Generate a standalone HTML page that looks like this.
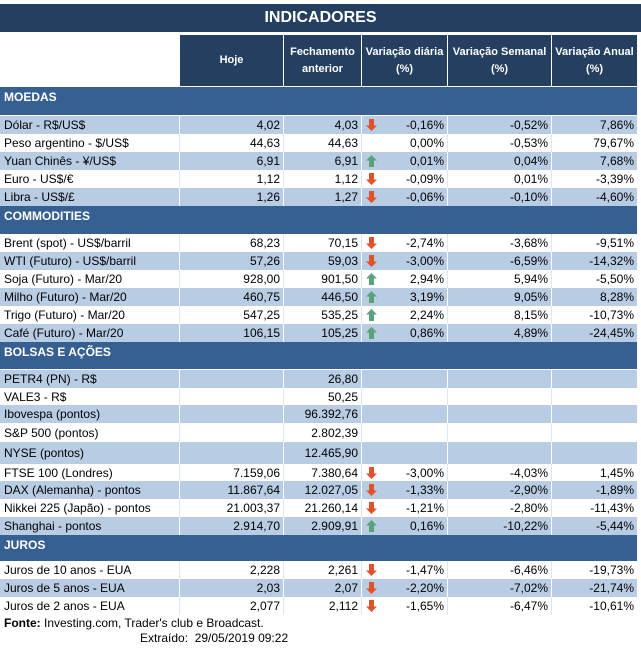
<!DOCTYPE html>
<html><head><meta charset="utf-8"><style>
body{margin:0;width:641px;height:650px;background:#fff;font-family:"Liberation Sans",sans-serif;font-size:12px;color:#000;position:relative;overflow:hidden}
div{position:absolute;box-sizing:border-box;white-space:nowrap}
.t{display:flex;align-items:center}
.r{justify-content:flex-end;padding-right:3px}
.l{padding-left:4px}
</style></head><body>
<div style="left:0;top:4px;width:641px;height:28px;background:#243f60;color:#fff;font-weight:bold;font-size:16px;text-align:center;line-height:28px">INDICADORES</div>
<div id="c"></div>
<div style="left:4px;top:616px;font-size:12px"><b>Fonte:</b> Investing.com, Trader's club e Broadcast.</div>
<div style="left:140px;top:631px;font-size:12px">Extraído:&nbsp; 29/05/2019 09:22</div>
<script>
var X=[0,179,283,361,447,551,637];
var out='';
var H=['Hoje','Fechamento<br>anterior','Variação diária<br>(%)','Variação Semanal<br>(%)','Variação Anual<br>(%)'];
for(var i=1;i<6;i++){out+='<div style="left:'+(X[i]+1)+'px;top:35px;width:'+(X[i+1]-X[i]-1)+'px;height:51px;background:#243f60;color:#fff;font-weight:bold;font-size:11px;display:flex;align-items:center;justify-content:center;text-align:center;line-height:17px">'+H[i-1]+'</div>';}
function sec(y,h,t){out+='<div style="left:0;top:'+y+'px;width:637px;height:'+h+'px;background:#366092;color:#fff;font-weight:bold;font-size:12px;padding:3px 0 0 4px">'+t+'</div>';}
function row(y,h,blue,d){
 var bg=blue?'#b8cce4':'#fff';
 out+='<div style="left:0;top:'+y+'px;width:637px;height:'+h+'px;background:'+bg+'"></div>';
 for(var i=1;i<6;i++){out+='<div style="left:'+X[i]+'px;top:'+y+'px;width:1px;height:'+h+'px;background:'+(blue?'#fff':'#dce6f1')+'"></div>';}
 out+='<div class="t l" style="left:0;top:'+y+'px;width:179px;height:'+h+'px">'+d[0]+'</div>';
 for(var i=1;i<6;i++){ if(d[i]) out+='<div class="t r" style="left:'+X[i]+'px;top:'+y+'px;width:'+(X[i+1]-X[i])+'px;height:'+h+'px">'+d[i]+'</div>';}
 if(d[6]){var up=d[6]=='u';
  out+='<div style="left:366px;top:'+(y+3)+'px;width:11px;height:12px"><svg width="11" height="12" viewBox="0 0 11 12">'+(up?'<path d="M5.5 0L11 5.5H8V12H3V5.5H0Z" fill="#5aa37a"/>':'<path d="M3 0H8V6.5H11L5.5 12L0 6.5H3Z" fill="#e0522b"/>')+'</svg></div>';}
}
sec(87,28,'MOEDAS');
var y=116,R;
R=[['Dólar - R$/US$','4,02','4,03','-0,16%','-0,52%','7,86%','d'],
['Peso argentino - $/US$','44,63','44,63','0,00%','-0,53%','79,67%',''],
['Yuan Chinês - ¥/US$','6,91','6,91','0,01%','0,04%','7,68%','u'],
['Euro - US$/€','1,12','1,12','-0,09%','0,01%','-3,39%','d'],
['Libra - US$/£','1,26','1,27','-0,06%','-0,10%','-4,60%','d']];
R.forEach(function(d,i){row(y,18,i%2==0,d);y+=18;});
sec(206,28,'COMMODITIES');y=234;
R=[['Brent (spot) - US$/barril','68,23','70,15','-2,74%','-3,68%','-9,51%','d'],
['WTI (Futuro) - US$/barril','57,26','59,03','-3,00%','-6,59%','-14,32%','d'],
['Soja (Futuro) - Mar/20','928,00','901,50','2,94%','5,94%','-5,50%','u'],
['Milho (Futuro) - Mar/20','460,75','446,50','3,19%','9,05%','8,28%','u'],
['Trigo (Futuro) - Mar/20','547,25','535,25','2,24%','8,15%','-10,73%','u'],
['Café (Futuro) - Mar/20','106,15','105,25','0,86%','4,89%','-24,45%','u']];
R.forEach(function(d,i){row(y,18,i%2==1,d);y+=18;});
sec(342,27,'BOLSAS E AÇÕES');
R=[[370,18,['PETR4 (PN) - R$','','26,80']],[388,17,['VALE3 - R$','','50,25']],[405,18,['Ibovespa (pontos)','','96.392,76']],
[423,19,['S&amp;P 500 (pontos)','','2.802,39']],[442,22,['NYSE (pontos)','','12.465,90']],
[464,17,['FTSE 100 (Londres)','7.159,06','7.380,64','-3,00%','-4,03%','1,45%','d']],
[481,18,['DAX (Alemanha) - pontos','11.867,64','12.027,05','-1,33%','-2,90%','-1,89%','d']],
[499,18,['Nikkei 225 (Japão) - pontos','21.003,37','21.260,14','-1,21%','-2,80%','-11,43%','d']],
[517,18,['Shanghai - pontos','2.914,70','2.909,91','0,16%','-10,22%','-5,44%','u']]];
R.forEach(function(r,i){row(r[0],r[1],i%2==0,r[2]);});
sec(535,26,'JUROS');y=561;
R=[['Juros de 10 anos - EUA','2,228','2,261','-1,47%','-6,46%','-19,73%','d'],
['Juros de 5 anos - EUA','2,03','2,07','-2,20%','-7,02%','-21,74%','d'],
['Juros de 2 anos - EUA','2,077','2,112','-1,65%','-6,47%','-10,61%','d']];
R.forEach(function(d,i){row(y,18,i%2==1,d);y+=18;});
document.getElementById('c').outerHTML=out;
</script>
</body></html>
